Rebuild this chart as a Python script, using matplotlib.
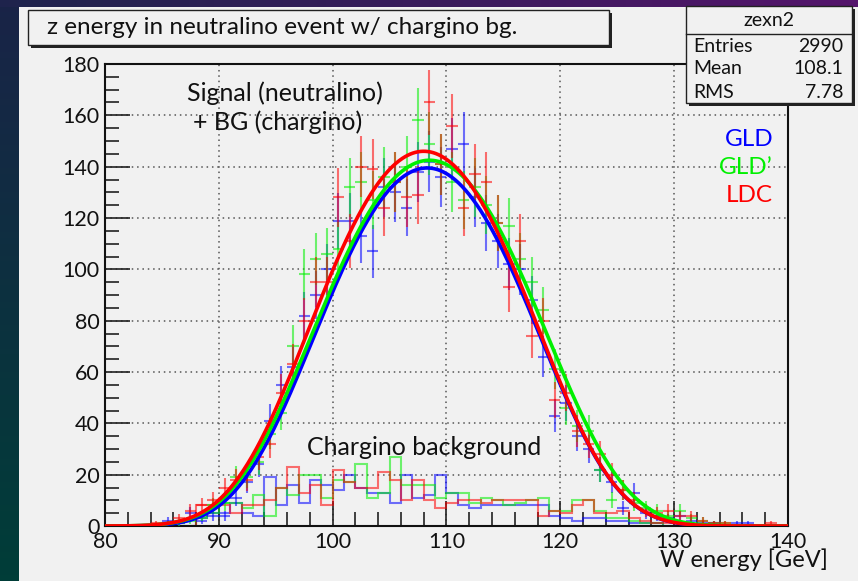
import numpy as np
import matplotlib
matplotlib.use("Agg")
import matplotlib.pyplot as plt
from matplotlib.patches import Rectangle
from matplotlib.ticker import MultipleLocator

# ---------------- data ----------------
bin_lo = 80.0
bin_w = 1.0
# signal + BG (1 GeV bins, 80..140)
gld = [0, 0, 0, 0, 0, 2, 1, 5, 2, 4,
       4, 11, 17, 24, 41, 55, 62, 82, 90, 100,
       119, 119, 113, 107, 132, 130, 124, 138, 142, 136,
       147, 149, 128, 118, 111, 102, 100, 88, 66, 43,
       48, 35, 30, 22, 17, 7, 13, 5, 4, 3,
       4, 2, 1, 1, 0, 1, 1, 0, 0, 0]
gldp = [0, 0, 0, 0, 0, 0, 1, 2, 4, 8,
        9, 19, 19, 25, 36, 44, 70, 98, 104, 106,
        108, 132, 134, 127, 136, 134, 140, 158, 149, 141,
        134, 127, 132, 125, 118, 117, 104, 95, 84, 61,
        46, 39, 37, 22, 10, 14, 9, 7, 6, 4,
        6, 3, 2, 1, 1, 0, 0, 0, 0, 0]
ldc = [0, 0, 0, 0, 1, 1, 3, 6, 8, 10,
       15, 18, 18, 27, 32, 52, 63, 80, 95, 95,
       128, 111, 140, 139, 124, 134, 128, 129, 165, 141,
       156, 124, 137, 134, 118, 93, 111, 74, 80, 49,
       52, 37, 32, 28, 20, 14, 10, 6, 5, 6,
       4, 4, 2, 1, 1, 0, 0, 0, 1, 0]
# chargino background (1 GeV bins)
bg_gld = [0, 0, 0, 0, 0, 0, 0, 0, 3, 5,
          5, 9, 5, 4, 19, 8, 16, 9, 18, 16,
          14, 20, 15, 13, 13, 9, 20, 11, 12, 20,
          13, 8, 7, 8, 8, 8, 8, 8, 8, 4,
          3, 2, 3, 3, 2, 2, 1, 1, 1, 0,
          0, 0, 0, 0, 0, 0, 0, 0, 0, 0]
bg_gldp = [0, 0, 0, 0, 0, 0, 0, 0, 3, 5,
           9, 9, 7, 12, 4, 15, 12, 20, 20, 11,
           18, 17, 24, 11, 13, 27, 16, 16, 16, 11,
           13, 13, 9, 11, 10, 8, 9, 10, 11, 6,
           6, 10, 10, 6, 3, 3, 2, 1, 1, 0,
           0, 0, 0, 0, 0, 0, 0, 0, 0, 0]
bg_ldc = [0, 0, 0, 0, 0, 0, 0, 0, 8, 8,
          8, 5, 8, 8, 10, 15, 23, 13, 16, 8,
          22, 17, 15, 15, 21, 18, 10, 18, 10, 7,
          9, 10, 10, 9, 10, 10, 10, 10, 4, 6,
          5, 8, 10, 5, 5, 6, 3, 2, 1, 1,
          0, 0, 0, 0, 0, 0, 0, 0, 0, 0]
# fit parameters: amplitude, mean, gaussian width, quartic width
fit_gld = (139.5, 108.3, 9.5, 15.3)
fit_gldp = (142.5, 108.5, 9.8, 15.8)
fit_ldc = (146.0, 108.0, 9.6, 15.5)

labels = ["GLD", "GLD\u2019", "LDC"]
colors = ["#0000ff", "#00f000", "#ff0000"]

stats = [("Entries", "2990"), ("Mean", "108.1"), ("RMS", "7.78")]

# ---------------- figure ----------------
W, H = 858, 581
fig = plt.figure(figsize=(W / 100, H / 100), dpi=100)
FONT = "Lato"
CANVAS = "#f1f1f1"
INK = "#111111"

bg = fig.add_axes([0, 0, 1, 1])
bg.set_axis_off()
grad = np.zeros((100, 2, 3))
top_c = np.array([0.10, 0.14, 0.28])
bot_c = np.array([0.0, 0.24, 0.22])
for i in range(100):
    t = i / 99
    grad[i, :, :] = top_c * (1 - t) + bot_c * t
bg.imshow(grad, aspect="auto", extent=[0, 1, 0, 1])
bg.set_xlim(0, 1); bg.set_ylim(0, 1)
tgrad = np.zeros((1, 100, 3))
for i in range(100):
    t = i / 99
    tgrad[0, i, :] = np.array([0.12, 0.14, 0.30]) * (1 - t) + np.array([0.33, 0.08, 0.42]) * t
bg.imshow(tgrad, aspect="auto", extent=[0, 1, 1 - 7 / H, 1])
bg.add_patch(Rectangle((19 / W, 0), 1 - 19 / W, 1 - 7 / H, facecolor=CANVAS,
                       edgecolor="none"))


def fx(px):
    return px / W


def fy(py):
    return 1 - py / H


x0, x1, y0, y1 = 105, 788, 64, 526
ax = fig.add_axes([fx(x0), fy(y1), fx(x1) - fx(x0), fy(y0) - fy(y1)])
ax.set_facecolor(CANVAS)
ax.set_xlim(80, 140)
ax.set_ylim(0, 180)

edges = bin_lo + bin_w * np.arange(len(gld) + 1)
centers = edges[:-1] + bin_w / 2

for vals, col in zip([bg_gld, bg_gldp, bg_ldc], colors):
    v = np.array(vals, float)
    ax.stairs(v, edges, color=col, lw=1.5, alpha=0.55, zorder=2)

for vals, col in zip([gld, gldp, ldc], colors):
    v = np.array(vals, float)
    m = v > 0
    ax.errorbar(centers[m], v[m], xerr=bin_w / 2, yerr=np.sqrt(v[m]), fmt="none",
                ecolor=col, elinewidth=1.5, alpha=0.55, capsize=0, zorder=3)

xx = np.linspace(80, 140, 800)
for (a, mu, s, q), col in zip([fit_gld, fit_gldp, fit_ldc], colors):
    d = xx - mu
    ax.plot(xx, a * np.exp(-0.5 * ((d / s) ** 2 + (d / q) ** 4)), color=col, lw=2.6,
            zorder=4)

ax.xaxis.set_major_locator(MultipleLocator(10))
ax.xaxis.set_minor_locator(MultipleLocator(2))
ax.yaxis.set_major_locator(MultipleLocator(20))
ax.yaxis.set_minor_locator(MultipleLocator(5))
ax.tick_params(which="both", direction="in", top=False, right=False, color="#222222")
ax.tick_params(which="major", length=18, width=1.2, labelsize=15.5, pad=4,
               labelcolor=INK)
ax.tick_params(which="minor", length=10, width=1.2)
ax.tick_params(axis="x", which="major", pad=4)
for lab in ax.get_xticklabels() + ax.get_yticklabels():
    lab.set_fontfamily(FONT)
ax.grid(True, which="major", color="#555555", linestyle=(0, (1, 2.5)), lw=1.1)
for sp in ax.spines.values():
    sp.set_linewidth(1.5)
    sp.set_color("#111111")

ax.text(0.12, 0.937, "Signal (neutralino)", transform=ax.transAxes, fontsize=18,
        family=FONT, color=INK, va="center")
ax.text(0.129, 0.874, "+ BG (chargino)", transform=ax.transAxes, fontsize=18,
        family=FONT, color=INK, va="center")
ax.text(0.296, 0.169, "Chargino background", transform=ax.transAxes, fontsize=18,
        family=FONT, color=INK, va="center")
for i, (lab, col) in enumerate(zip(labels, colors)):
    fig.text(fx(773), fy(139 + 28 * i), lab, color=col, fontsize=17.5, family=FONT,
             ha="right", va="center")

fig.text(fx(828), fy(560), "W energy [GeV]", ha="right", va="center",
         fontsize=17, family=FONT, color=INK)

# title box with shadow
fig.patches.append(Rectangle((fx(31), fy(48)), fx(609) - fx(28), fy(10) - fy(45),
                             transform=fig.transFigure, facecolor="#222222",
                             edgecolor="none", zorder=5))
fig.patches.append(Rectangle((fx(28), fy(45)), fx(609) - fx(28), fy(10) - fy(45),
                             transform=fig.transFigure, facecolor=CANVAS,
                             edgecolor="#222222", lw=1.0, zorder=6))
fig.text(fx(47), fy(27), "z energy in neutralino event w/ chargino bg.", fontsize=17.5,
         family=FONT, color=INK, va="center", zorder=7)

# stats box
sx0, sx1, sy0, sy1 = 686, 852, 6, 103
fig.patches.append(Rectangle((fx(sx0 + 3), fy(sy1 + 3)), fx(sx1) - fx(sx0), fy(sy0) - fy(sy1),
                             transform=fig.transFigure, facecolor="#222222",
                             edgecolor="none", zorder=5))
fig.patches.append(Rectangle((fx(sx0), fy(sy1)), fx(sx1) - fx(sx0), fy(sy0) - fy(sy1),
                             transform=fig.transFigure, facecolor=CANVAS,
                             edgecolor="#222222", lw=1.0, zorder=6))
fig.add_artist(plt.Line2D([fx(sx0), fx(sx1)], [fy(34), fy(34)], color="#222222",
                          lw=1.0, zorder=7))
fig.text(fx(769), fy(20), "zexn2", ha="center", va="center", fontsize=14,
         family=FONT, color=INK, zorder=7)
for i, (k, v) in enumerate(stats):
    yy = fy(46 + 23 * i)
    fig.text(fx(693), yy, k, ha="left", va="center", fontsize=14, family=FONT,
             color=INK, zorder=7)
    fig.text(fx(843), yy, v, ha="right", va="center", fontsize=14, family=FONT,
             color=INK, zorder=7)

fig.savefig("out.png", dpi=100)
